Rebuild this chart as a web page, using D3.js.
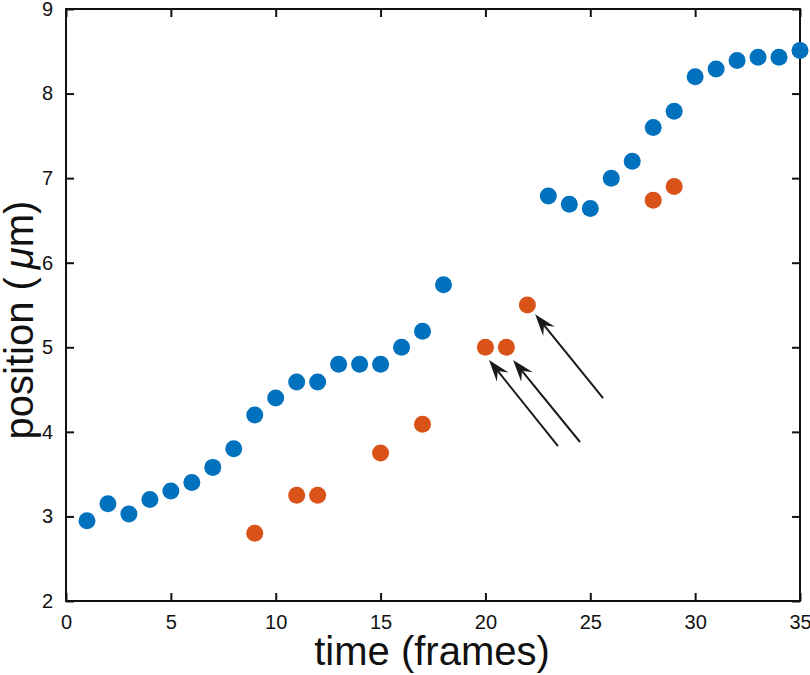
<!DOCTYPE html>
<html>
<head>
<meta charset="utf-8">
<script src="https://cdn.jsdelivr.net/npm/d3@7"></script>
<style>
  body { margin: 0; background: #fff; }
  text { font-family: "Liberation Sans", Arial, Helvetica, sans-serif; }
</style>
</head>
<body>
<svg id="s"></svg>
<script>
// tracked particle, frames 1-35
var blueFrames = [1,2,3,4,5,6,7,8,9,10,11,12,13,14,15,16,17,18,23,24,25,26,27,28,29,30,31,32,33,34,35];
var blueValues = [2.95,3.15,3.03,3.2,3.3,3.4,3.58,3.8,4.2,4.4,4.59,4.59,4.8,4.8,4.8,5.0,5.19,5.74,6.79,6.69,6.64,7.0,7.2,7.6,7.79,8.2,8.29,8.39,8.43,8.43,8.51];
// second detections
var redFrames = [9,11,12,15,17,20,21,22,28,29];
var redValues = [2.8,3.25,3.25,3.75,4.09,5.0,5.0,5.5,6.74,6.9];
// arrows: [tailX, tailY, tipX, tipY] in data units
var arrows = [
  [23.46, 3.83, 20.17, 4.85],
  [24.51, 3.88, 21.32, 4.85],
  [25.61, 4.40, 22.37, 5.39]
];
var xTicks = [0,5,10,15,20,25,30,35];
var yTicks = [2,3,4,5,6,7,8,9];

var W = 810, H = 675;
var m = {left: 66, right: 10, top: 9, bottom: 74};

var s = d3.select('#s').attr('width', W).attr('height', H);

var x = d3.scaleLinear().domain([0,35]).range([m.left, W - m.right]);
var y = d3.scaleLinear().domain([2,9]).range([H - m.bottom, m.top]);

var tick = 8;
var fmt = d3.format('d');

// axes
var gx = s.append('g').attr('transform', 'translate(0,' + y(2) + ')')
  .call(d3.axisBottom(x).tickValues(xTicks).tickSize(-tick).tickPadding(14).tickFormat(fmt));
var gy = s.append('g').attr('transform', 'translate(' + x(0) + ',0)')
  .call(d3.axisLeft(y).tickValues(yTicks).tickSize(-tick).tickPadding(13).tickFormat(fmt));
var gt = s.append('g').attr('transform', 'translate(0,' + y(9) + ')')
  .call(d3.axisTop(x).tickValues(xTicks).tickSize(-tick).tickFormat(''));
var gr = s.append('g').attr('transform', 'translate(' + x(35) + ',0)')
  .call(d3.axisRight(y).tickValues(yTicks).tickSize(-tick).tickFormat(''));

[gx, gy, gt, gr].forEach(function(g){
  g.select('.domain').remove();
  g.selectAll('.tick line').attr('stroke', '#111').attr('stroke-width', 2);
  g.selectAll('.tick text').attr('fill', '#111').style('font-size', '20px');
});
// frame
s.append('rect')
  .attr('x', x(0)).attr('y', y(9))
  .attr('width', x(35) - x(0)).attr('height', y(2) - y(9))
  .attr('fill', 'none').attr('stroke', '#111').attr('stroke-width', 2);

// points
s.append('g').selectAll('circle')
  .data(blueFrames)
  .enter()
  .append('circle')
  .attr('cx', function(d){ return x(d); })
  .attr('cy', function(d, i){ return y(blueValues[i]); })
  .attr('r', 8.5)
  .attr('fill', '#0072BD');

s.append('g').selectAll('circle')
  .data(redFrames)
  .enter()
  .append('circle')
  .attr('cx', function(d){ return x(d); })
  .attr('cy', function(d, i){ return y(redValues[i]); })
  .attr('r', 8.5)
  .attr('fill', '#D95319');

// arrows
var ag = s.append('g');
arrows.forEach(function(a){
  var x1 = x(a[0]), y1 = y(a[1]), x2 = x(a[2]), y2 = y(a[3]);
  var ang = Math.atan2(y2 - y1, x2 - x1);
  var len = 22, half = 7.5, back = 14;
  var ux = Math.cos(ang), uy = Math.sin(ang);
  var px = -uy, py = ux;
  var bx = x2 - ux * len, by = y2 - uy * len;
  var nx = x2 - ux * back, ny = y2 - uy * back;
  ag.append('line')
    .attr('x1', x1).attr('y1', y1).attr('x2', nx).attr('y2', ny)
    .attr('stroke', '#1a1a1a').attr('stroke-width', 2);
  ag.append('path')
    .attr('d', 'M' + x2 + ',' + y2 +
      'L' + (bx + px * half) + ',' + (by + py * half) +
      'L' + nx + ',' + ny +
      'L' + (bx - px * half) + ',' + (by - py * half) + 'Z')
    .attr('fill', '#1a1a1a');
});

// labels
s.append('text')
  .attr('x', (x(0) + x(35)) / 2 - 1)
  .attr('y', 665)
  .attr('text-anchor', 'middle')
  .style('font-size', '40px')
  .attr('fill', '#111')
  .text('time (frames)');

var yl = s.append('text')
  .attr('transform', 'translate(33,' + 320 + ') rotate(-90)')
  .attr('text-anchor', 'middle')
  .style('font-size', '40px')
  .attr('fill', '#111');
yl.append('tspan').text('position (\u2009');
yl.append('tspan').style('font-style', 'italic').text('\u03bc');
yl.append('tspan').text('m)');
</script>
</body>
</html>
